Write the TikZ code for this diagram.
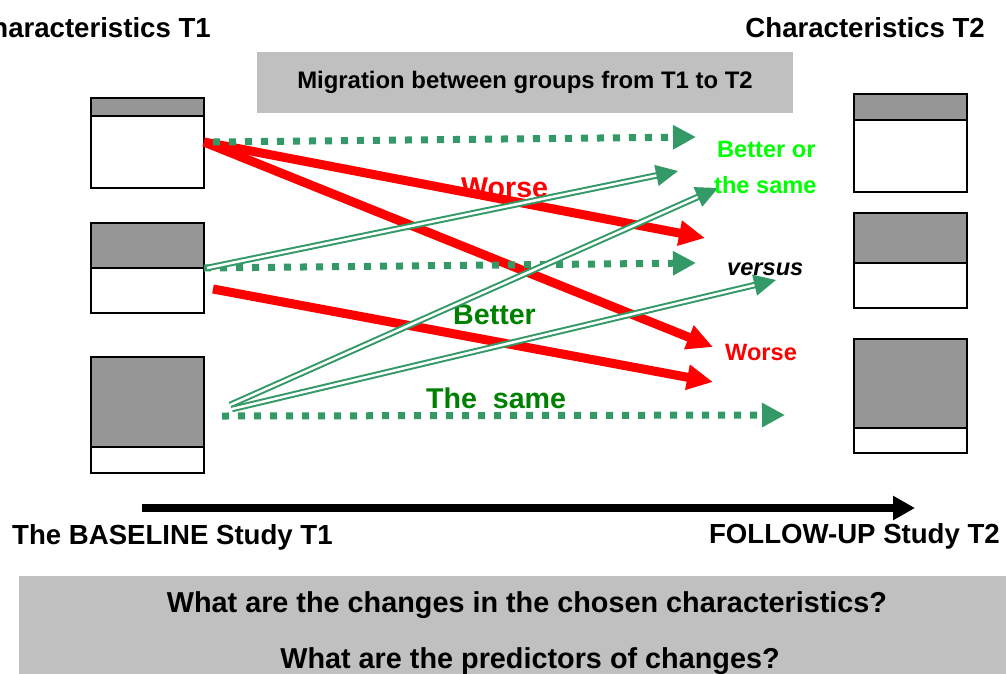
\documentclass[tikz,border=0pt]{standalone}
\usepackage{fontspec}
\setmainfont{Liberation Sans}
\usetikzlibrary{arrows.meta}
\definecolor{sea}{RGB}{51,153,102}
\definecolor{dgreen}{RGB}{0,128,0}
\definecolor{lime}{RGB}{0,255,0}
\definecolor{boxgray}{RGB}{150,150,150}
\definecolor{lblgray}{RGB}{192,192,192}
\tikzset{
  grp/.style={draw=black, line width=2pt, fill=boxgray, minimum width=113pt, inner sep=0pt, outer sep=0pt},
  wht/.style={draw=black, line width=2pt, fill=white, minimum width=113pt, inner sep=0pt, outer sep=0pt},
  panel/.style={fill=lblgray, draw=none, inner sep=0pt, outer sep=0pt},
  big/.style={font=\fontsize{27.6}{33}\selectfont\bfseries, inner sep=0pt},
  mid/.style={font=\fontsize{28.6}{34}\selectfont\bfseries, inner sep=0pt},
  small/.style={font=\fontsize{23.6}{28}\selectfont\bfseries, inner sep=0pt},
  dotarr/.style={draw=sea, line width=7pt, dash pattern=on 7pt off 9pt, -{Triangle[length=23pt,width=23pt]}},
  redarr/.style={draw=red, line width=9pt, -{Triangle[length=26pt,width=24pt]}},
  dblarr/.style={draw=sea, line width=2pt, double=white, double distance=2.5pt, -{Triangle[length=22pt,width=21pt]}},
}
\begin{document}
\begin{tikzpicture}[x=1pt,y=-1pt]
\useasboundingbox (0,0) rectangle (1006,673);
\clip (0,0) rectangle (1006,673);

% headings
\node[big, anchor=base east] (h1) at (211,37) {Characteristics T1};
\node[big, anchor=base east] (h2) at (985,37) {Characteristics T2};
\node[panel, minimum width=536pt, minimum height=61pt] (mig) at (525,82.5) {};
\node[font=\fontsize{23.9}{28}\selectfont\bfseries, inner sep=0pt] (migt) at (525,82) {Migration between groups from T1 to T2};

% left boxes
\node[grp, minimum height=18pt] (l1g) at (147.5,107) {};
\node[wht, minimum height=72pt] (l1w) at (147.5,152) {};
\node[grp, minimum height=45pt] (l2g) at (147.5,245.5) {};
\node[wht, minimum height=45pt] (l2w) at (147.5,290.5) {};
\node[grp, minimum height=90pt] (l3g) at (147.5,402) {};
\node[wht, minimum height=26pt] (l3w) at (147.5,460) {};

% right boxes
\node[grp, minimum height=26pt] (r1g) at (910.5,107) {};
\node[wht, minimum height=72pt] (r1w) at (910.5,156) {};
\node[grp, minimum height=50pt] (r2g) at (910.5,238) {};
\node[wht, minimum height=45pt] (r2w) at (910.5,285.5) {};
\node[grp, minimum height=89pt] (r3g) at (910.5,383.5) {};
\node[wht, minimum height=25pt] (r3w) at (910.5,440.5) {};

% end points
\coordinate (sA) at (204,142);
\coordinate (sD1) at (213,142);
\coordinate (sB) at (204,268);
\coordinate (sC) at (222,416);
\coordinate (sR3) at (213,289);
\coordinate (sG1) at (207,268);
\coordinate (sG2) at (230,405);
\coordinate (sG3) at (232,409);
\coordinate (tD1) at (696,137);
\coordinate (tD2) at (696,263);
\coordinate (tD3) at (785,415);
\coordinate (tR1) at (705,238);
\coordinate (tR2) at (713,347);
\coordinate (tR3) at (713,382);
\coordinate (tG1) at (678,171);
\coordinate (tG2) at (718,188);
\coordinate (tG3) at (776,280);

% labels in the middle
\node[mid, text=red, anchor=base west] (worse1) at (461,197) {Worse};
\node[mid, text=dgreen, anchor=base west] (better) at (453,324) {Better};
\node[mid, text=dgreen, anchor=base west] (same) at (426,408) {The\ \ same};

% red arrows
\draw[redarr] (sA) -- (tR1);
\draw[redarr] (sA) -- (tR2);
\draw[redarr] (sR3) -- (tR3);

% dotted arrows
\draw[dotarr] (sD1) -- (tD1);
\draw[dotarr] (sB) -- (tD2);
\draw[dotarr] (sC) -- (tD3);

% double arrows
\draw[dblarr] (sG1) -- (tG1);
\draw[dblarr] (sG2) -- (tG2);
\draw[dblarr] (sG3) -- (tG3);

% right labels
\node[small, text=lime, anchor=base west] (bo1) at (717,157) {Better or};
\node[small, text=lime, anchor=base west] (bo2) at (714,193) {the same};
\node[small, anchor=base west] (vs) at (727,275) {\itshape versus};
\node[small, text=red, anchor=base west] (worse2) at (725,360) {Worse};

% timeline
\coordinate (ta) at (142,508);
\coordinate (tb) at (915,508);
\draw[line width=8pt, -{Triangle[length=22pt,width=23pt]}] (ta) -- (tb);
\node[big, anchor=base west] (base) at (12,544) {The BASELINE Study T1};
\node[big, anchor=base east] (fu) at (1000,543) {FOLLOW-UP Study T2};

% bottom panel
\node[panel, anchor=north west, minimum width=1000pt, minimum height=110pt] (q) at (19,576) {};
\node[font=\fontsize{28.8}{34}\selectfont\bfseries, inner sep=0pt, anchor=base] (q1) at (527,612) {What are the changes in the chosen characteristics?};
\node[font=\fontsize{28.8}{34}\selectfont\bfseries, inner sep=0pt, anchor=base] (q2) at (530,668) {What are the predictors of changes?};
\end{tikzpicture}
\end{document}
